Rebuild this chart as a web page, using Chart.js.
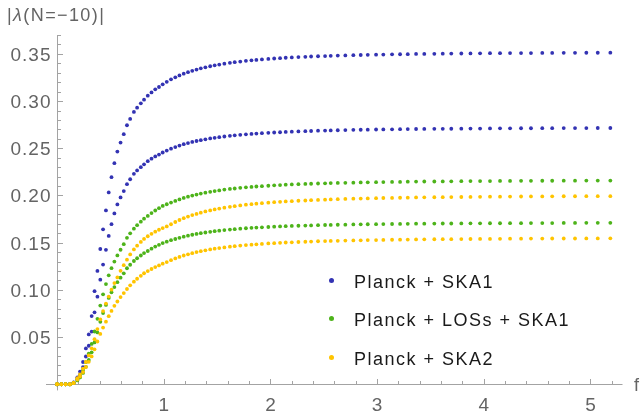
<!DOCTYPE html>
<html>
<head>
<meta charset="utf-8">
<script src="https://cdn.jsdelivr.net/npm/chart.js@4.4.1/dist/chart.umd.min.js"></script>
<style>
  body { margin: 0; background: #fff; }
  #wrap { position: relative; width: 643px; height: 414px; font-family: 'Liberation Sans', Arial, sans-serif; }
  #chart { position: absolute; left: 0; top: 0; }
  .lbl { position: absolute; font-size: 18px; line-height: 20px; letter-spacing: 1.4px; color: #646464; white-space: nowrap; }
  .row { position: absolute; left: 354px; font-size: 18px; line-height: 20px; letter-spacing: 1.5px; color: #1a1a1a; white-space: nowrap; }
  .row .dot { position: absolute; left: -25px; top: 5.8px; width: 5px; height: 5px; border-radius: 50%; }
</style>
</head>
<body>
<div id="wrap">
  <canvas id="chart" width="643" height="414"></canvas>
  <div class="lbl" style="left:7px; top:5px">|<i>λ</i>(N=−10)|</div>
  <div class="lbl" style="left:634px; top:375px">f</div>
  <div id="legend"></div>
</div>
<script>
// f values where the curves were sampled (same grid for all six curves)
const fValues = [
  0, 0.04, 0.08, 0.12, 0.155, 0.19, 0.215, 0.243, 0.27, 0.297, 0.324, 0.351, 0.378, 0.405, 0.431,
  0.458, 0.484, 0.51, 0.537, 0.565, 0.595, 0.625, 0.655, 0.685, 0.72, 0.75, 0.785, 0.815, 0.85,
  0.885, 0.92, 0.955, 0.99,
  1.028, 1.068, 1.108, 1.147, 1.187, 1.227, 1.267, 1.307, 1.347, 1.39, 1.435, 1.477, 1.52, 1.568,
  1.62, 1.665, 1.717, 1.77, 1.822, 1.868, 1.92, 1.98, 2.035, 2.09, 2.143, 2.2, 2.262, 2.327, 2.381,
  2.446, 2.512, 2.565, 2.631, 2.702, 2.777, 2.846, 2.912, 2.99, 3.058, 3.14, 3.215, 3.287, 3.365,
  3.442, 3.536, 3.615, 3.695, 3.789, 3.875, 3.965, 4.058, 4.152, 4.246, 4.349, 4.442, 4.548, 4.641,
  4.749, 4.855, 4.961, 5.068, 5.186
]

// Planck + SKA1 (two curves)
const ska1Upper = [
  0, 0, 0, 0, 0.0021, 0.0074, 0.0134, 0.0236, 0.0380, 0.0528, 0.0722, 0.0986, 0.1201, 0.1433, 0.1641,
  0.1842, 0.2032, 0.2194, 0.2342, 0.2465, 0.2560, 0.2649, 0.2744, 0.2811, 0.2885, 0.2930, 0.2976,
  0.3015, 0.3057, 0.3092, 0.3124, 0.3149, 0.3177,
  0.3204, 0.3230, 0.3252, 0.3272, 0.3290, 0.3306, 0.3321, 0.3334, 0.3347, 0.3358, 0.3369, 0.3379,
  0.3387, 0.3396, 0.3405, 0.3412, 0.3419, 0.3426, 0.3432, 0.3436, 0.3441, 0.3447, 0.3451, 0.3455,
  0.3459, 0.3462, 0.3466, 0.3469, 0.3472, 0.3475, 0.3477, 0.3479, 0.3482, 0.3484, 0.3486, 0.3488,
  0.3490, 0.3492, 0.3493, 0.3495, 0.3496, 0.3497, 0.3499, 0.3500, 0.3501, 0.3502, 0.3503, 0.3504,
  0.3505, 0.3506, 0.3507, 0.3507, 0.3508, 0.3509, 0.3509, 0.3510, 0.3510, 0.3511, 0.3511, 0.3512,
  0.3512, 0.3513
]
const ska1Lower = [
  0, 0, 0, 0, 0.0016, 0.0057, 0.0103, 0.0182, 0.0294, 0.0408, 0.0558, 0.0762, 0.0928, 0.1108, 0.1268,
  0.1424, 0.1571, 0.1696, 0.1810, 0.1905, 0.1979, 0.2047, 0.2120, 0.2172, 0.2229, 0.2265, 0.2300,
  0.2330, 0.2363, 0.2390, 0.2414, 0.2433, 0.2455,
  0.2476, 0.2496, 0.2513, 0.2529, 0.2543, 0.2555, 0.2567, 0.2577, 0.2586, 0.2595, 0.2604, 0.2611,
  0.2618, 0.2625, 0.2632, 0.2637, 0.2643, 0.2648, 0.2652, 0.2656, 0.2660, 0.2664, 0.2667, 0.2670,
  0.2673, 0.2676, 0.2679, 0.2681, 0.2683, 0.2686, 0.2687, 0.2689, 0.2691, 0.2693, 0.2695, 0.2696,
  0.2697, 0.2699, 0.2700, 0.2701, 0.2702, 0.2703, 0.2704, 0.2705, 0.2706, 0.2706, 0.2707, 0.2708,
  0.2709, 0.2709, 0.2710, 0.2711, 0.2711, 0.2712, 0.2712, 0.2713, 0.2713, 0.2714, 0.2714, 0.2714,
  0.2715, 0.2715
]

// Planck + LOSs + SKA1
const losUpper = [
  0, 0, 0, 0, 0.0015, 0.0052, 0.0091, 0.0152, 0.0234, 0.0325, 0.0427, 0.0559, 0.0693, 0.0834, 0.0953,
  0.1061, 0.1154, 0.1230, 0.1300, 0.1365, 0.1425, 0.1484, 0.1551, 0.1599, 0.1648, 0.1685, 0.1722,
  0.1754, 0.1783, 0.1813, 0.1841, 0.1865, 0.1889,
  0.1907, 0.1925, 0.1942, 0.1958, 0.1974, 0.1987, 0.1999, 0.2010, 0.2020, 0.2030, 0.2039, 0.2047,
  0.2054, 0.2062, 0.2069, 0.2074, 0.2081, 0.2086, 0.2091, 0.2095, 0.2099, 0.2103, 0.2107, 0.2110,
  0.2114, 0.2117, 0.2120, 0.2122, 0.2124, 0.2127, 0.2129, 0.2131, 0.2133, 0.2134, 0.2136, 0.2138,
  0.2139, 0.2141, 0.2142, 0.2143, 0.2144, 0.2146, 0.2147, 0.2148, 0.2148, 0.2149, 0.2150, 0.2151,
  0.2152, 0.2153, 0.2153, 0.2154, 0.2154, 0.2155, 0.2155, 0.2156, 0.2156, 0.2157, 0.2157, 0.2158,
  0.2158, 0.2158
]
const losLower = [
  0, 0, 0, 0, 0.0012, 0.0041, 0.0072, 0.0120, 0.0185, 0.0257, 0.0338, 0.0443, 0.0549, 0.0661, 0.0755,
  0.0841, 0.0915, 0.0975, 0.1030, 0.1081, 0.1129, 0.1175, 0.1229, 0.1266, 0.1306, 0.1335, 0.1364,
  0.1390, 0.1412, 0.1436, 0.1459, 0.1477, 0.1496,
  0.1511, 0.1526, 0.1539, 0.1551, 0.1564, 0.1574, 0.1584, 0.1593, 0.1601, 0.1608, 0.1615, 0.1622,
  0.1627, 0.1633, 0.1639, 0.1643, 0.1648, 0.1653, 0.1657, 0.1660, 0.1663, 0.1666, 0.1669, 0.1672,
  0.1675, 0.1677, 0.1679, 0.1681, 0.1683, 0.1685, 0.1687, 0.1688, 0.1690, 0.1691, 0.1693, 0.1694,
  0.1695, 0.1696, 0.1697, 0.1698, 0.1699, 0.1700, 0.1701, 0.1701, 0.1702, 0.1703, 0.1703, 0.1704,
  0.1705, 0.1705, 0.1706, 0.1706, 0.1707, 0.1707, 0.1708, 0.1708, 0.1708, 0.1709, 0.1709, 0.1710,
  0.1710, 0.1710
]

// Planck + SKA2
const ska2Upper = [
  0, 0, 0, 0, 0.0016, 0.0064, 0.0104, 0.0166, 0.0236, 0.0306, 0.0381, 0.0477, 0.0585, 0.0687, 0.0775,
  0.0855, 0.0929, 0.1002, 0.1072, 0.1132, 0.1202, 0.1262, 0.1320, 0.1375, 0.1428, 0.1468, 0.1508,
  0.1540, 0.1568, 0.1594, 0.1617, 0.1637, 0.1655,
  0.1672, 0.1695, 0.1719, 0.1740, 0.1759, 0.1776, 0.1792, 0.1805, 0.1818, 0.1831, 0.1842, 0.1852,
  0.1861, 0.1871, 0.1880, 0.1887, 0.1895, 0.1902, 0.1908, 0.1913, 0.1918, 0.1924, 0.1929, 0.1933,
  0.1937, 0.1940, 0.1944, 0.1947, 0.1950, 0.1953, 0.1956, 0.1958, 0.1961, 0.1963, 0.1966, 0.1967,
  0.1969, 0.1971, 0.1973, 0.1974, 0.1976, 0.1977, 0.1979, 0.1980, 0.1981, 0.1982, 0.1983, 0.1984,
  0.1985, 0.1986, 0.1987, 0.1987, 0.1988, 0.1989, 0.1990, 0.1990, 0.1991, 0.1992, 0.1992, 0.1993,
  0.1993, 0.1993
]
const ska2Lower = [
  0, 0, 0, 0, 0.0012, 0.0050, 0.0081, 0.0129, 0.0183, 0.0238, 0.0295, 0.0370, 0.0453, 0.0533, 0.0601,
  0.0663, 0.0721, 0.0777, 0.0831, 0.0877, 0.0924, 0.0966, 0.1009, 0.1048, 0.1087, 0.1118, 0.1149,
  0.1176, 0.1199, 0.1221, 0.1241, 0.1259, 0.1277,
  0.1294, 0.1315, 0.1333, 0.1349, 0.1364, 0.1377, 0.1389, 0.1400, 0.1410, 0.1419, 0.1428, 0.1436,
  0.1443, 0.1450, 0.1458, 0.1463, 0.1469, 0.1475, 0.1479, 0.1483, 0.1487, 0.1492, 0.1495, 0.1498,
  0.1502, 0.1504, 0.1507, 0.1510, 0.1512, 0.1515, 0.1517, 0.1518, 0.1520, 0.1522, 0.1524, 0.1525,
  0.1527, 0.1528, 0.1529, 0.1531, 0.1532, 0.1533, 0.1534, 0.1535, 0.1536, 0.1537, 0.1537, 0.1538,
  0.1539, 0.1540, 0.1540, 0.1541, 0.1542, 0.1542, 0.1543, 0.1543, 0.1544, 0.1544, 0.1544, 0.1545,
  0.1545, 0.1546
]

const legendLabels = ['Planck + SKA1', 'Planck + LOSs + SKA1', 'Planck + SKA2']
const colors = ['#3333b3', '#4db31a', '#ffc400']

const xTicks = [1, 2, 3, 4, 5]
const yTicks = [0.05, 0.10, 0.15, 0.20, 0.25, 0.30, 0.35]
const yTickLabels = ['0.05', '0.10', '0.15', '0.20', '0.25', '0.30', '0.35']

function points(ys) {
    return fValues.map(function(f, i) {
        return { x: f, y: ys[i] }
    })
}

// mathematica style axes crossing at the origin, ticks pointing inwards
const originAxes = {
    id: 'originAxes',
    beforeDatasetsDraw: function(chart) {
        const ctx = chart.ctx
        const xs = chart.scales.x
        const ys = chart.scales.y
        const x0 = Math.round(xs.getPixelForValue(0)) + 0.5
        const y0 = Math.round(ys.getPixelForValue(0)) + 0.5
        ctx.save()
        ctx.strokeStyle = '#a3a3a3'
        ctx.lineWidth = 1
        ctx.beginPath()
        ctx.moveTo(xs.left, y0)
        ctx.lineTo(xs.right, y0)
        ctx.moveTo(x0, ys.top)
        ctx.lineTo(x0, ys.bottom)

        // minor ticks every 0.2 on x, every 0.01 on y
        for (let k = 1; k * 0.2 < xs.max; k++) {
            const px = Math.round(xs.getPixelForValue(k * 0.2)) + 0.5
            const len = (k % 5 === 0) ? 5.5 : 3.5
            ctx.moveTo(px, y0)
            ctx.lineTo(px, y0 - len)
        }
        for (let k = 1; k * 0.01 <= ys.max + 1e-9; k++) {
            const py = Math.round(ys.getPixelForValue(k * 0.01)) + 0.5
            const len = (k % 5 === 0) ? 5.5 : 3.5
            ctx.moveTo(x0, py)
            ctx.lineTo(x0 + len, py)
        }
        ctx.stroke()

        ctx.fillStyle = '#646464'
        ctx.font = '19px "Liberation Sans", Arial, sans-serif'
        ctx.letterSpacing = '1px'
        ctx.textBaseline = 'alphabetic'
        ctx.textAlign = 'center'
        xTicks.forEach(function(v) {
            ctx.fillText(String(v), xs.getPixelForValue(v) + 0.5, y0 + 26)
        })
        ctx.textAlign = 'right'
        yTicks.forEach(function(v, i) {
            ctx.fillText(yTickLabels[i], x0 - 6, ys.getPixelForValue(v) + 7)
        })
        ctx.restore()
    }
}

const series = [
    { data: ska1Upper, c: 0 }, { data: ska1Lower, c: 0 },
    { data: losUpper, c: 1 }, { data: losLower, c: 1 },
    { data: ska2Upper, c: 2 }, { data: ska2Lower, c: 2 }
]

const datasets = series.map(function(s) {
    return {
        label: legendLabels[s.c],
        data: points(s.data),
        backgroundColor: colors[s.c],
        borderWidth: 0,
        pointRadius: 1.9,
        pointHoverRadius: 1.9,
        showLine: false,
        order: 2 - s.c
    }
})

new Chart(document.getElementById('chart'), {
    type: 'scatter',
    data: { datasets: datasets },
    options: {
        responsive: false,
        animation: false,
        devicePixelRatio: 1,
        layout: { padding: { left: 46, right: 20.5, top: 35, bottom: 23.6 } },
        scales: {
            x: { type: 'linear', min: -0.104, max: 5.3, display: false },
            y: { type: 'linear', min: -0.0065, max: 0.37, display: false }
        },
        plugins: {
            legend: { display: false },
            tooltip: { enabled: false }
        }
    },
    plugins: [originAxes]
})

// legend inside the plot, bottom right
const legend = document.getElementById('legend')
const rowTops = [272, 310.4, 348.8]
legendLabels.forEach(function(name, i) {
    const row = document.createElement('div')
    row.className = 'row'
    row.style.top = rowTops[i] + 'px'
    row.innerHTML = '<span class="dot" style="background:' + colors[i] + '"></span>' + name
    legend.appendChild(row)
})
</script>
</body>
</html>
